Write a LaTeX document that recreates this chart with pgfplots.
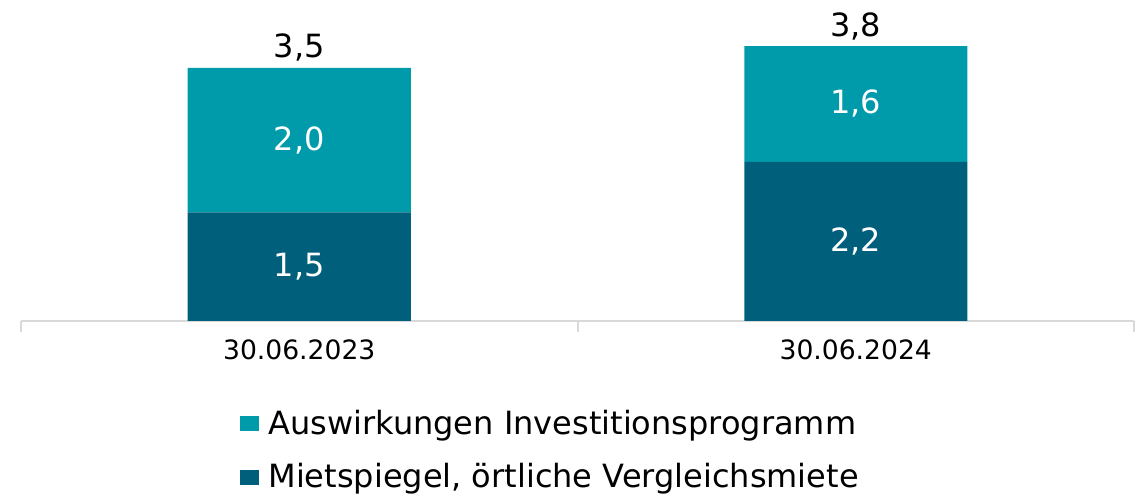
\documentclass[border=0pt]{standalone}
\usepackage{fontspec}
\setmainfont{DejaVu Sans}
\usepackage{pgfplots}
\pgfplotsset{compat=1.18}
\definecolor{darkteal}{HTML}{005F7A}
\definecolor{lightteal}{HTML}{009BAA}
\definecolor{axisgray}{HTML}{D9D9D9}
\pgfplotsset{
  common/.style={
    scale only axis,
    width=556.5pt, height=160.5pt,
    xmin=-0.5, xmax=1.5, ymin=0, ymax=4.437,
    enlargelimits=false,
    /pgf/number format/.cd, use comma, fixed, fixed zerofill, precision=1, assume math mode=true,
    /pgfplots/.cd,
  },
}
\begin{document}
\begin{tikzpicture}
\begin{axis}[
  common,
  ybar stacked, bar width=111.5pt,
  axis x line=bottom, axis y line=none,
  x axis line style={-, draw=axisgray, line width=1pt},
  xtick={-0.5,0.5,1.5}, xticklabels={},
  tick align=outside, major tick length=5.5pt,
  xtick style={draw=axisgray, line width=1pt},
  extra x ticks={0,1},
  extra x tick labels={30.06.2023,30.06.2024},
  extra x tick style={major tick length=0pt, xticklabel style={font=\fontsize{13.3}{16}\selectfont, yshift=-6pt}},
  reverse legend,
  legend style={draw=none, fill=none, at={(0.1968,-0.264)}, anchor=north west,
    font=\fontsize{16}{19}\selectfont, row sep=9pt, inner sep=0pt,
    cells={anchor=west}},
  legend image code/.code={\fill[#1] (0pt,-3.75pt) rectangle (9.5pt,3.75pt); \path (12pt,0pt);},
]
\addplot[fill=darkteal, draw=none] coordinates {(0,1.5) (1,2.2)};
\addlegendentry{Mietspiegel, örtliche Vergleichsmiete}
\addplot[fill=lightteal, draw=none] coordinates {(0,2.0) (1,1.6)};
\addlegendentry{Auswirkungen Investitionsprogramm}
\end{axis}
% value labels: segment midpoints and totals
\begin{axis}[common, hide axis]
\addplot[only marks, mark=none, point meta=explicit,
  nodes near coords,
  every node near coord/.append style={anchor=center, text=white, font=\fontsize{16}{19}\selectfont}]
  coordinates {(0,0.75) [1.5] (1,1.1) [2.2] (0,2.5) [2.0] (1,3.0) [1.6]};
\addplot[only marks, mark=none, point meta=explicit,
  nodes near coords,
  every node near coord/.append style={anchor=base, yshift=5pt, text=black, font=\fontsize{16}{19}\selectfont}]
  coordinates {(0,3.5) [3.5] (1,3.8) [3.8]};
\end{axis}
\pgfresetboundingbox
\path (-10.5pt,-88pt) rectangle (563pt,160.5pt);
\end{tikzpicture}
\end{document}
